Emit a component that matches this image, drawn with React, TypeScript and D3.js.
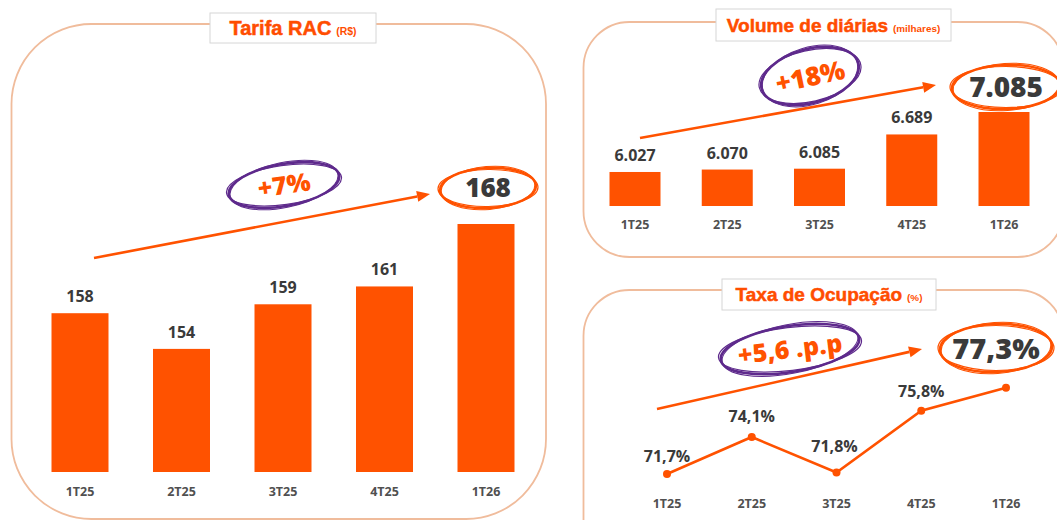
import React from "react";
import * as d3 from "d3";

const categories = ["1T25", "2T25", "3T25", "4T25", "1T26"];
const tarifaValues = [158, 154, 159, 161, 168];
const tarifaLabels = ["158", "154", "159", "161", "168"];
const volumeValues = [6027, 6070, 6085, 6689, 7085];
const volumeLabels = ["6.027", "6.070", "6.085", "6.689", "7.085"];
const ocupValues = [71.7, 74.1, 71.8, 75.8, 77.3];
const ocupLabels = ["71,7%", "74,1%", "71,8%", "75,8%", "77,3%"];
const growthLabels = ["+7%", "+18%", "+5,6 .p.p"];

const ORANGE = "#ff5200";
const TITLE_ORANGE = "#ff4d00";
const DARK = "#3a3a3a";
const GRAY = "#505050";
const PURPLE = "#5e2a8c";
const BORDER = "#f0bc9c";
const NUMFONT = "'Open Sans', 'DejaVu Sans', sans-serif";
const TITLEFONT = "'Liberation Sans', Arial, sans-serif";

function roundedPanel(x: number, y: number, w: number, h: number, r: number) {
  return `M${x + r},${y} H${x + w - r} A${r},${r} 0 0 1 ${x + w},${y + r} V${y + h - r} A${r},${r} 0 0 1 ${x + w - r},${y + h} H${x + r} A${r},${r} 0 0 1 ${x},${y + h - r} V${y + r} A${r},${r} 0 0 1 ${x + r},${y} Z`;
}

function Title({ x, y, w, h, main, sub, size }: any) {
  return (
    <g>
      <rect x={x} y={y} width={w} height={h} fill="#fff" stroke="#d6d6d6" strokeWidth={1} />
      <text x={x + w / 2} y={y + h / 2 + size * 0.36} textAnchor="middle" fontFamily={TITLEFONT} fontWeight={700}>
        <tspan fontSize={size} fill={TITLE_ORANGE} stroke={TITLE_ORANGE} strokeWidth={0.5}>{main}</tspan>
        <tspan fontSize={size * 0.52} fill={TITLE_ORANGE} dx={5}>{sub}</tspan>
      </text>
    </g>
  );
}

function Scribble({ cx, cy, rx, ry, rot, color }: any) {
  return (
    <g transform={`translate(${cx},${cy}) rotate(${rot})`} fill="none" stroke={color}>
      <ellipse rx={rx} ry={ry} strokeWidth={2.6} />
      <ellipse rx={rx + 2} ry={ry - 1.5} strokeWidth={1.2} transform="rotate(2)" />
      <ellipse rx={rx - 1} ry={ry + 1.5} strokeWidth={1} transform="rotate(-2)" />
    </g>
  );
}

function Arrow({ x1, y1, x2, y2 }: any) {
  const ang = Math.atan2(y2 - y1, x2 - x1);
  const L = 13, W = 5.5;
  const bx = x2 - L * Math.cos(ang), by = y2 - L * Math.sin(ang);
  const px = -Math.sin(ang) * W, py = Math.cos(ang) * W;
  return (
    <g>
      <line x1={x1} y1={y1} x2={bx} y2={by} stroke={ORANGE} strokeWidth={2.6} />
      <path d={`M${x2},${y2} L${bx + px},${by + py} L${bx - px},${by - py} Z`} fill={ORANGE} />
    </g>
  );
}

export default function App() {
  const xT = d3.scalePoint<string>().domain(categories).range([80, 486]);
  const yT = d3.scaleLinear().domain([140.2, 168]).range([472, 224]);
  const xV = d3.scalePoint<string>().domain(categories).range([635, 1004]);
  const yV = d3.scaleLinear().domain([5427, 7085]).range([206, 112]);
  const xO = d3.scalePoint<string>().domain(categories).range([667, 1006]);
  const yO = d3.scaleLinear().domain([71.7, 77.3]).range([474, 387.7]);
  const line = d3
    .line<number>()
    .x((_, i) => xO(categories[i]) as number)
    .y((d) => yO(d));

  const ocupLabelDy = [-12, -15, -20, -14, 0];

  return (
    <svg width={1057} height={520} style={{ position: "absolute", left: 0, top: 0, background: "#fff" }}>
      <path d={roundedPanel(11.5, 24, 534.5, 495, 80)} fill="none" stroke={BORDER} strokeWidth={1.8} />
      <path d={roundedPanel(583.5, 22, 480, 235, 46)} fill="none" stroke={BORDER} strokeWidth={1.8} />
      <path d={roundedPanel(583.5, 290, 480, 300, 46)} fill="none" stroke={BORDER} strokeWidth={1.8} />

      {/* Tarifa RAC */}
      <Title x={210} y={13} w={166} h={30} main="Tarifa RAC" sub="(R$)" size={20} />
      {tarifaValues.map((v, i) => (
        <g key={"t" + i}>
          <rect x={(xT(categories[i]) as number) - 28.5} y={yT(v)} width={57} height={472 - yT(v)} fill={ORANGE} />
          {i < 4 && (
            <text x={xT(categories[i])} y={yT(v) - 11} textAnchor="middle" fontFamily={NUMFONT} fontWeight={700} fontSize={16} fill={DARK}>
              {tarifaLabels[i]}
            </text>
          )}
          <text x={xT(categories[i])} y={496} textAnchor="middle" fontFamily={NUMFONT} fontWeight={700} fontSize={12.5} fill={GRAY}>
            {categories[i]}
          </text>
        </g>
      ))}
      <Arrow x1={94} y1={258} x2={430} y2={194} />
      <Scribble cx={284} cy={185} rx={56} ry={21} rot={-10} color={PURPLE} />
      <text x={284} y={194} textAnchor="middle" fontFamily={NUMFONT} fontWeight={800} fontSize={25} fill={ORANGE} transform="rotate(-8 284 185)">
        {growthLabels[0]}
      </text>
      <Scribble cx={488} cy={188} rx={48} ry={20} rot={-3} color={ORANGE} />
      <text x={488} y={197} textAnchor="middle" fontFamily={NUMFONT} fontWeight={800} fontSize={26} fill={DARK}>
        {tarifaLabels[4]}
      </text>

      {/* Volume de diárias */}
      <Title x={716} y={9} w={235} h={32} main="Volume de diárias" sub="(milhares)" size={19} />
      {volumeValues.map((v, i) => (
        <g key={"v" + i}>
          <rect x={(xV(categories[i]) as number) - 25.5} y={yV(v)} width={51} height={206 - yV(v)} fill={ORANGE} />
          {i < 4 && (
            <text x={xV(categories[i])} y={yV(v) - 11} textAnchor="middle" fontFamily={NUMFONT} fontWeight={700} fontSize={16} fill={DARK}>
              {volumeLabels[i]}
            </text>
          )}
          <text x={xV(categories[i])} y={229} textAnchor="middle" fontFamily={NUMFONT} fontWeight={700} fontSize={12.5} fill={GRAY}>
            {categories[i]}
          </text>
        </g>
      ))}
      <Arrow x1={640} y1={138} x2={936} y2={85} />
      <Scribble cx={810} cy={76} rx={50} ry={27} rot={-15} color={PURPLE} />
      <text x={810} y={86} textAnchor="middle" fontFamily={NUMFONT} fontWeight={800} fontSize={26} fill={ORANGE} transform="rotate(-12 810 76)">
        {growthLabels[1]}
      </text>
      <Scribble cx={1006} cy={87} rx={54} ry={22} rot={-2} color={ORANGE} />
      <text x={1006} y={97} textAnchor="middle" fontFamily={NUMFONT} fontWeight={800} fontSize={28} fill={DARK}>
        {volumeLabels[4]}
      </text>

      {/* Taxa de Ocupação */}
      <Title x={722} y={279} w={214} h={31} main="Taxa de Ocupação" sub="(%)" size={19} />
      <path d={line(ocupValues) as string} fill="none" stroke={ORANGE} strokeWidth={2.6} />
      {ocupValues.map((v, i) => (
        <g key={"o" + i}>
          <circle cx={xO(categories[i])} cy={yO(v)} r={4} fill={ORANGE} />
          {i < 4 && (
            <text x={(xO(categories[i]) as number) + (i === 2 ? -2 : 0)} y={yO(v) + ocupLabelDy[i]} textAnchor="middle" fontFamily={NUMFONT} fontWeight={700} fontSize={16} fill={DARK}>
              {ocupLabels[i]}
            </text>
          )}
          <text x={xO(categories[i])} y={508} textAnchor="middle" fontFamily={NUMFONT} fontWeight={700} fontSize={12.5} fill={GRAY}>
            {categories[i]}
          </text>
        </g>
      ))}
      <Arrow x1={657} y1={409} x2={922} y2={349} />
      <Scribble cx={790} cy={349} rx={70} ry={23} rot={-9} color={PURPLE} />
      <text x={790} y={358} textAnchor="middle" fontFamily={NUMFONT} fontWeight={800} fontSize={25} fill={ORANGE} transform="rotate(-7 790 349)">
        {growthLabels[2]}
      </text>
      <Scribble cx={996} cy={348} rx={56} ry={24} rot={-2} color={ORANGE} />
      <text x={996} y={359} textAnchor="middle" fontFamily={NUMFONT} fontWeight={800} fontSize={29} fill={DARK}>
        {ocupLabels[4]}
      </text>
    </svg>
  );
}
